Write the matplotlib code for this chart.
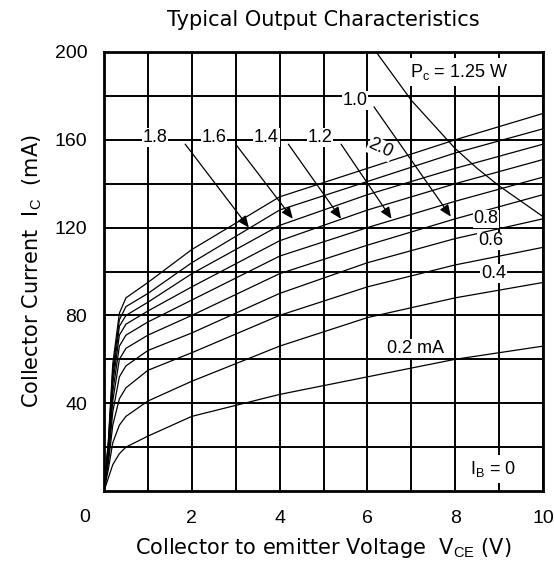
import numpy as np
import matplotlib.pyplot as plt

plt.rcParams['font.family'] = ['Liberation Sans', 'DejaVu Sans']
plt.rcParams['mathtext.fontset'] = 'custom'
plt.rcParams['mathtext.rm'] = 'Liberation Sans'

vce = [0, 0.1, 0.2, 0.35, 0.5, 1, 2, 4, 6, 8, 10]

# Kollektorstrom (mA) je Basisstrom
ic_02 = [0, 6, 12, 17, 20, 25, 34, 44, 52, 60, 66]
ic_04 = [0, 10, 22, 30, 34, 41, 50, 66, 79, 88, 95]
ic_06 = [0, 13, 30, 42, 47, 55, 63, 80, 93, 103, 111]
ic_08 = [0, 15, 36, 52, 57, 64, 72, 90, 104, 115, 124]
ic_10 = [0, 17, 41, 60, 65, 71, 80, 99, 112, 124, 135]
ic_12 = [0, 19, 45, 66, 71, 77, 87, 107, 120, 132, 143]
ic_14 = [0, 20, 49, 71, 76, 82, 93, 114, 128, 140, 151]
ic_16 = [0, 21, 52, 75, 80, 86, 99, 121, 135, 147, 158]
ic_18 = [0, 22, 55, 78, 84, 90, 104, 128, 141, 154, 165]
ic_20 = [0, 23, 58, 81, 88, 95, 110, 134, 147, 160, 172]
kurven = [ic_02, ic_04, ic_06, ic_08, ic_10, ic_12, ic_14, ic_16, ic_18, ic_20]

# Verlustleistungsgrenze Pc = 1.25 W
pc_v = [6.2, 6.6, 7, 7.5, 8, 8.5, 9, 9.5, 10]
pc_i = [200, 189, 178, 167, 156, 147, 139, 132, 125]

# Beschriftungen mit Pfeil: Text, Textposition, Pfeilanfang, Pfeilspitze
pfeil_text = ['1.8', '1.6', '1.4', '1.2', '1.0']
pfeil_xy = [(1.16, 161), (2.5, 161), (3.7, 161), (4.92, 161), (5.72, 178)]
pfeil_von = [(1.85, 158), (3.0, 158), (4.2, 158), (5.4, 158), (6.15, 175)]
pfeil_bis = [(3.3, 120), (4.3, 124), (5.4, 124), (6.55, 124), (7.9, 125)]

fig = plt.figure(figsize=(5.54, 5.69), dpi=100)
ax = fig.add_axes([104 / 554, 1 - 491 / 569, 439 / 554, 439 / 569])

for ic in kurven:
    ax.plot(vce, ic, color='black', lw=0.9, zorder=3)
ax.plot(pc_v, pc_i, color='black', lw=0.9, zorder=3)

box = dict(facecolor='white', edgecolor='none', pad=0.5)
fs = 13
for t, xy, a, b in zip(pfeil_text, pfeil_xy, pfeil_von, pfeil_bis):
    ax.text(xy[0], xy[1], t, fontsize=fs, ha='center', va='center', bbox=box, zorder=6)
    ax.annotate('', xy=b, xytext=a,
                arrowprops=dict(arrowstyle='-|>,head_length=0.7,head_width=0.3',
                                color='black', lw=0.9, shrinkA=0, shrinkB=0),
                zorder=6)

ax.text(6.3, 156, '2.0', fontsize=fs, ha='center', va='center', rotation=-25, bbox=box, zorder=6)
ax.text(8.1, 191, r'P$_{\mathrm{c}}$ = 1.25 W', fontsize=fs, ha='center', va='center',
        bbox=dict(facecolor='white', edgecolor='none', pad=3), zorder=6)
ax.text(8.7, 124, '0.8', fontsize=fs, ha='center', va='center', bbox=box, zorder=6)
ax.text(8.8, 114, '0.6', fontsize=fs, ha='center', va='center', bbox=box, zorder=6)
ax.text(8.87, 99, '0.4', fontsize=fs, ha='center', va='center', bbox=box, zorder=6)
ax.text(7.1, 65, '0.2 mA', fontsize=fs, ha='center', va='center', bbox=box, zorder=6)
ax.text(8.85, 10, r'I$_{\mathrm{B}}$ = 0', fontsize=fs, ha='center', va='center',
        bbox=dict(facecolor='white', edgecolor='none', pad=3), zorder=6)

ax.set_xlim(0, 10)
ax.set_ylim(0, 200)
ax.set_xticks([2, 4, 6, 8, 10])
ax.set_xticks(np.arange(1, 10, 2), minor=True)
ax.set_yticks([40, 80, 120, 160, 200])
ax.set_yticks(np.arange(20, 200, 40), minor=True)
ax.grid(which='both', color='black', lw=1.4, zorder=1)
ax.set_axisbelow(True)
ax.tick_params(which='both', length=0, labelsize=14)
ax.tick_params(axis='x', pad=14)
ax.tick_params(axis='y', pad=12)
for s in ax.spines.values():
    s.set_linewidth(2)

ax.text(-0.045, -0.06, '0', transform=ax.transAxes, fontsize=14, ha='center', va='center')

lab = dict(fontsize=15, family=['DejaVu Sans'])
ax.set_xlabel(r'Collector to emitter Voltage  V$_{\mathrm{CE}}$ (V)', labelpad=6, **lab)
ax.set_ylabel(r'Collector Current  I$_{\mathrm{C}}$  (mA)', labelpad=8, **lab)
fig.text(323.5 / 554, 1 - 20 / 569, 'Typical Output Characteristics', ha='center', va='center', **lab)

fig.savefig('out.png', dpi=100)
